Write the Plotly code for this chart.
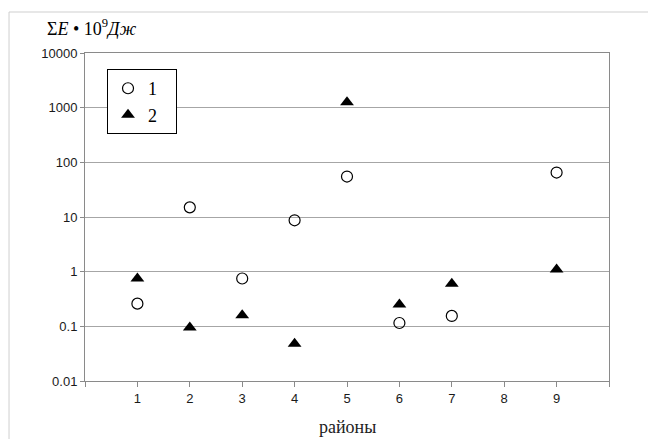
import plotly.graph_objects as go

# Data
districts = [1, 2, 3, 4, 5, 6, 7, 9]
series1 = [0.26, 15, 0.75, 8.7, 55, 0.115, 0.155, 65]
series2 = [0.75, 0.095, 0.16, 0.048, 1250, 0.25, 0.6, 1.1]
x_ticks = [1, 2, 3, 4, 5, 6, 7, 8, 9]
y_ticks = [0.01, 0.1, 1, 10, 100, 1000, 10000]
y_labels = ["0.01", "0.1", "1", "10", "100", "1000", "10000"]

fig = go.Figure()
fig.add_trace(go.Scatter(
    x=districts, y=series1, mode="markers", name="1&nbsp;&nbsp;&nbsp;",
    marker=dict(symbol="circle-open", size=11, color="black", line=dict(width=1.2, color="black")),
))
fig.add_trace(go.Scatter(
    x=districts, y=series2, mode="markers", name="2&nbsp;&nbsp;&nbsp;",
    marker=dict(symbol="triangle-up", size=12, color="black"),
))

fig.update_layout(
    width=648, height=431,
    margin=dict(l=77, r=47, t=45, b=58),
    paper_bgcolor="white", plot_bgcolor="white",
    showlegend=True,
    legend=dict(
        x=0.042, y=0.951, xanchor="left", yanchor="top",
        bordercolor="black", borderwidth=1, bgcolor="white",
        font=dict(family="Liberation Serif, Times New Roman, serif", size=18, color="black"),
        itemwidth=30, tracegroupgap=0,
    ),
    xaxis=dict(
        range=[0, 10], tickvals=list(range(0, 11)),
        ticktext=[""] + [str(v) for v in x_ticks] + [""],
        showgrid=False, zeroline=False,
        showline=True, linecolor="#8a8a8a", linewidth=1, mirror=True,
        ticks="outside", ticklen=5, tickcolor="#8a8a8a",
        tickfont=dict(family="Liberation Sans, Arial, sans-serif", size=13, color="#1a1a1a"),
    ),
    yaxis=dict(
        type="log", range=[-2, 4],
        tickvals=y_ticks, ticktext=y_labels,
        showgrid=True, gridcolor="#a6a6a6", gridwidth=1,
        zeroline=False,
        showline=True, linecolor="#8a8a8a", linewidth=1, mirror=True,
        ticks="outside", ticklen=4, tickcolor="#8a8a8a",
        tickfont=dict(family="Liberation Sans, Arial, sans-serif", size=13, color="#1a1a1a"),
    ),
    shapes=[dict(
        type="rect", xref="paper", yref="paper",
        x0=-0.145, x1=1.2, y0=-0.4, y1=1.125,
        line=dict(color="#cfcfcf", width=1), layer="below",
    )],
    annotations=[
        dict(
            text="Σ<i>E</i> • 10<sup>9</sup><i>Дж</i>", xref="paper", yref="paper",
            x=-0.077, y=1.125, xanchor="left", yanchor="middle", yshift=-15, showarrow=False,
            font=dict(family="Liberation Serif, Times New Roman, serif", size=18, color="black"),
        ),
        dict(
            text="районы", xref="paper", yref="paper",
            x=0.5, y=0, xanchor="center", yanchor="middle", yshift=-46, showarrow=False,
            font=dict(family="Liberation Serif, Times New Roman, serif", size=18, color="#222"),
        ),
    ],
)

fig.write_html("out.html")
